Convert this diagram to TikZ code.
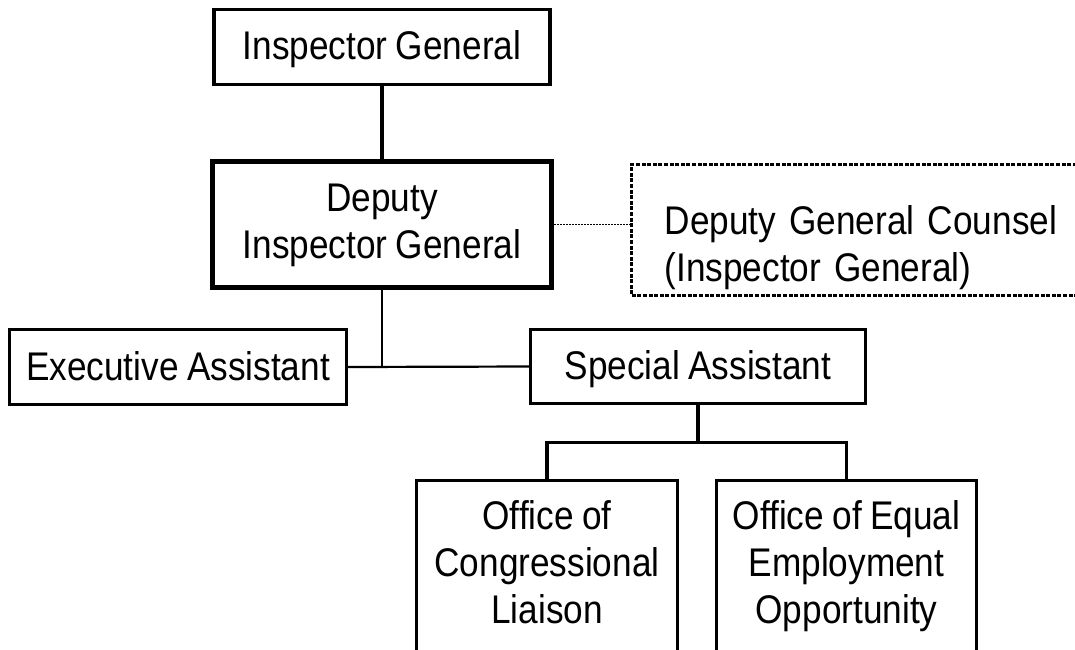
\documentclass[tikz,border=0pt]{standalone}
\usepackage{fontspec}
\setmainfont[FakeStretch=0.88,WordSpace=0.85]{Liberation Sans}
\usetikzlibrary{calc}
% struts that fix the height of a first line and the depth of a last line
\newcommand{\topst}[1]{\rule{0pt}{#1pt}}
\newcommand{\botst}[1]{\rule[-#1pt]{0pt}{#1pt}}
\begin{document}
\begin{tikzpicture}[x=1pt,y=-1pt,
  every node/.style={font=\fontsize{40}{47}\selectfont},
  box/.style={draw=black, line width=3.3pt, rectangle, inner sep=0pt, align=center},
  headbox/.style={box, line width=5.3pt},
  counselbox/.style={draw=black, line width=3.2pt, dash pattern=on 4pt off 1.6pt,
    rectangle, inner xsep=32.75pt, inner ysep=0pt, align=left},
  mainline/.style={draw=black, line width=3.2pt},
  sideline/.style={draw=black, line width=2.2pt},
  dotline/.style={draw=black, line width=1.6pt, dash pattern=on 1.5pt off 1.5pt}
]
\useasboundingbox (0,0) rectangle (1075,649);
\clip (0,0) rectangle (1075,649);

% boxes
\node[box, minimum width=336pt, minimum height=75pt] (ig) at (382,47)
  {\topst{34}Inspector General\botst{8}};
\node[headbox, minimum width=339pt, minimum height=126pt] (dep) at (382,224.5)
  {\topst{30}Deputy\\Inspector General\botst{8}};
\node[counselbox, anchor=west, text width=399.25pt, minimum height=131.5pt] (dgc) at (630.25,230)
  {\topst{65}Deputy General Counsel\\(Inspector General)\botst{8}};
\node[box, minimum width=337pt, minimum height=75pt] (ea) at (178,367)
  {\topst{34}Executive Assistant\botst{8}};
\node[box, minimum width=335pt, minimum height=74pt] (sa) at (698,366.5)
  {\topst{34}Special Assistant\botst{8}};
\node[box, minimum width=261pt, minimum height=219.5pt] (ocl) at (547,590.25)
  {\topst{34}Office of\\Congressional\\Liaison\botst{62.5}};
\node[box, minimum width=260pt, minimum height=219.5pt] (eeo) at (846.5,590.25)
  {\topst{34}Office of Equal\\Employment\\Opportunity\botst{62.5}};

% connectors
\draw[mainline] (ig.south) -- (dep.north);
\draw[dotline] (dep.east) -- (dep.east -| dgc.west);
\draw[sideline] (dep.south) -- (dep.south |- ea.east);
\draw[sideline] (ea.east) -- (sa.west);
\coordinate (bus) at ($(sa.south)+(0,37)$);
\draw[mainline] (sa.south) -- (bus);
\draw[mainline] (ocl.north) |- (bus) -| (eeo.north);
\end{tikzpicture}
\end{document}
